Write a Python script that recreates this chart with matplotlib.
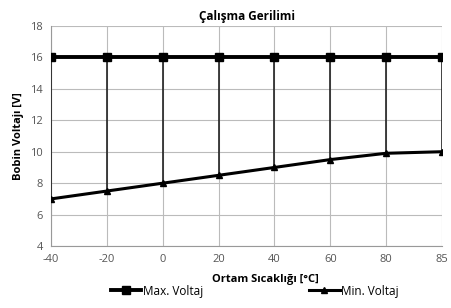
import matplotlib
matplotlib.use("Agg")
import matplotlib.pyplot as plt

plt.rcParams['font.family'] = ['Open Sans', 'DejaVu Sans']

# veriler
sicaklik = ['-40', '-20', '0', '20', '40', '60', '80', '85']
max_voltaj = [16, 16, 16, 16, 16, 16, 16, 16]
min_voltaj = [7, 7.5, 8, 8.5, 9, 9.5, 9.9, 10]
y_ticks = [4, 6, 8, 10, 12, 14, 16, 18]

fig = plt.figure(figsize=(4.52, 3.08), dpi=100)
ax = fig.add_axes([0.113, 0.201, 0.865, 0.715])

x = list(range(len(sicaklik)))

# max-min arası dikey çizgiler
ax.vlines(x, min_voltaj, max_voltaj, colors='#222222', linewidth=1.2, zorder=3)

ax.plot(x, max_voltaj, color='black', linewidth=2.8, marker='s', markersize=6,
        label='Max. Voltaj', zorder=4)
ax.plot(x, min_voltaj, color='black', linewidth=2.2, marker='^', markersize=5,
        label='Min. Voltaj', zorder=4)

ax.set_xlim(0, len(sicaklik) - 1)
ax.set_ylim(4, 18)
ax.set_xticks(x)
ax.set_xticklabels(sicaklik)
ax.set_yticks(y_ticks)
ax.tick_params(axis='both', labelsize=8, colors='#555555', length=0, pad=6)
ax.grid(True, color='#bbbbbb', linewidth=0.8, zorder=0)
for s in ['top', 'right']:
    ax.spines[s].set_visible(False)
for s in ['left', 'bottom']:
    ax.spines[s].set_color('#999999')

ax.set_title('Çalışma Gerilimi', fontsize=8.5, fontweight='bold', pad=4)
ax.set_ylabel('Bobin Voltajı [V]', fontsize=8, fontweight='bold', labelpad=4)
fig.text(0.587, 0.091, 'Ortam Sıcaklığı [°C]', fontsize=8, fontweight='bold',
         ha='center', va='center')

fig.legend(loc='center', bbox_to_anchor=(0.563, 0.055), ncol=2, frameon=False,
           fontsize=8.5, handlelength=2.6, handletextpad=0.1, columnspacing=9)

fig.savefig('out.png', dpi=100)
